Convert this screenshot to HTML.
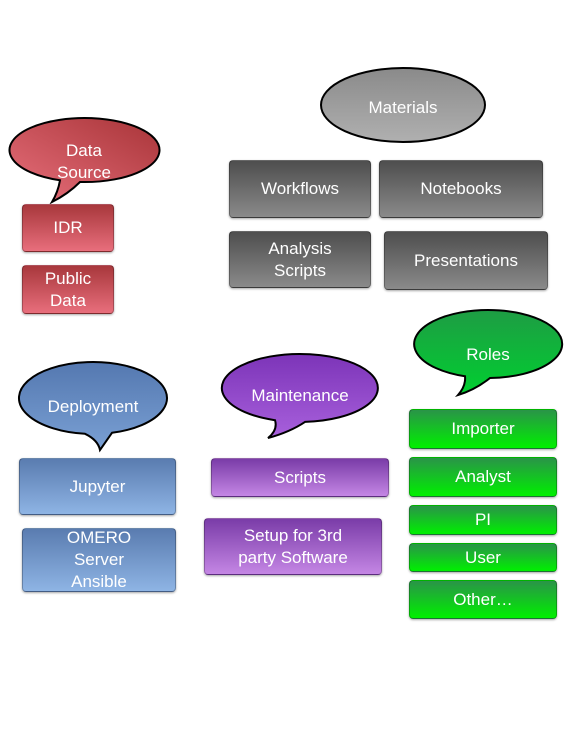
<!DOCTYPE html>
<html><head><style>
body{margin:0;width:576px;height:733px;background:#fff;position:relative;overflow:hidden;font-family:"Liberation Sans",sans-serif}
.b{position:absolute;border-radius:4px;color:#fff;font-size:17px;display:flex;align-items:center;justify-content:center;text-align:center;line-height:22px;box-shadow:0 1px 2px rgba(0,0,0,.35);border:1px solid rgba(0,0,0,.25);box-sizing:border-box}
.r{background:linear-gradient(#a8383c,#e86e7c)}
.g{background:linear-gradient(#4e4e4e,#8a8a8a)}
.bl{background:linear-gradient(#5a7cb0,#8eb4e4)}
.p{background:linear-gradient(#7a3ca8,#c486e4)}
.gr{background:linear-gradient(#2a9448,#00f000)}
svg{position:absolute;left:0;top:0}
svg text{font-family:"Liberation Sans",sans-serif;font-size:17px;fill:#fff;text-anchor:middle}
</style></head><body>
<svg width="576" height="733">
<defs>
<linearGradient id="gr" x1="1" y1="0" x2="0" y2="1"><stop offset="0" stop-color="#a83438"/><stop offset="1" stop-color="#e8707c"/></linearGradient>
<linearGradient id="gg" x1="0" y1="0" x2="0" y2="1"><stop offset="0" stop-color="#8a8a8a"/><stop offset="1" stop-color="#b0b0b0"/></linearGradient>
<linearGradient id="gb" x1="0" y1="0" x2="0" y2="1"><stop offset="0" stop-color="#5478b0"/><stop offset="1" stop-color="#7aa0d4"/></linearGradient>
<linearGradient id="gp" x1="0" y1="0" x2="0" y2="1"><stop offset="0" stop-color="#7c34b8"/><stop offset="1" stop-color="#a860dc"/></linearGradient>
<linearGradient id="ggr" x1="0" y1="0" x2="0" y2="1"><stop offset="0" stop-color="#1e9c44"/><stop offset="1" stop-color="#00d030"/></linearGradient>
</defs>
<g stroke="#000" stroke-width="2">
<path d="M80,182 A75,32 0 1 0 60,180.3 Q58,192 52,202 Q68,194 80,182 Z" fill="url(#gr)"/>
<ellipse cx="403" cy="105" rx="82" ry="37" fill="url(#gg)"/>
<path d="M465,376.3 A74,34 0 1 1 490,378 Q475,390 458,395 Q466,386 465,376.3 Z" fill="url(#ggr)"/>
<path d="M85,433.8 A74,36 0 1 1 112,432.8 L100,450 Q98,440 85,433.8 Z" fill="url(#gb)"/>
<path d="M275,420.2 A78,34 0 1 1 305,421.9 Q290,432 268,438 Q278,430 275,420.2 Z" fill="url(#gp)"/>
</g>
<text x="84" y="156">Data</text><text x="84" y="178">Source</text>
<text x="403" y="113">Materials</text>
<text x="488" y="360">Roles</text>
<text x="93" y="412">Deployment</text>
<text x="300" y="401">Maintenance</text>
</svg>
<div class="b r" style="left:22px;top:204px;width:92px;height:48px">IDR</div>
<div class="b r" style="left:22px;top:265px;width:92px;height:49px">Public<br>Data</div>
<div class="b g" style="left:229px;top:160px;width:142px;height:58px">Workflows</div>
<div class="b g" style="left:379px;top:160px;width:164px;height:58px">Notebooks</div>
<div class="b g" style="left:229px;top:231px;width:142px;height:57px">Analysis<br>Scripts</div>
<div class="b g" style="left:384px;top:231px;width:164px;height:59px">Presentations</div>
<div class="b bl" style="left:19px;top:458px;width:157px;height:57px">Jupyter</div>
<div class="b bl" style="left:22px;top:528px;width:154px;height:64px">OMERO<br>Server<br>Ansible</div>
<div class="b p" style="left:211px;top:458px;width:178px;height:39px">Scripts</div>
<div class="b p" style="left:204px;top:518px;width:178px;height:57px">Setup for 3rd<br>party Software</div>
<div class="b gr" style="left:409px;top:409px;width:148px;height:40px">Importer</div>
<div class="b gr" style="left:409px;top:457px;width:148px;height:40px">Analyst</div>
<div class="b gr" style="left:409px;top:505px;width:148px;height:30px">PI</div>
<div class="b gr" style="left:409px;top:543px;width:148px;height:29px">User</div>
<div class="b gr" style="left:409px;top:580px;width:148px;height:39px">Other…</div>
</body></html>
